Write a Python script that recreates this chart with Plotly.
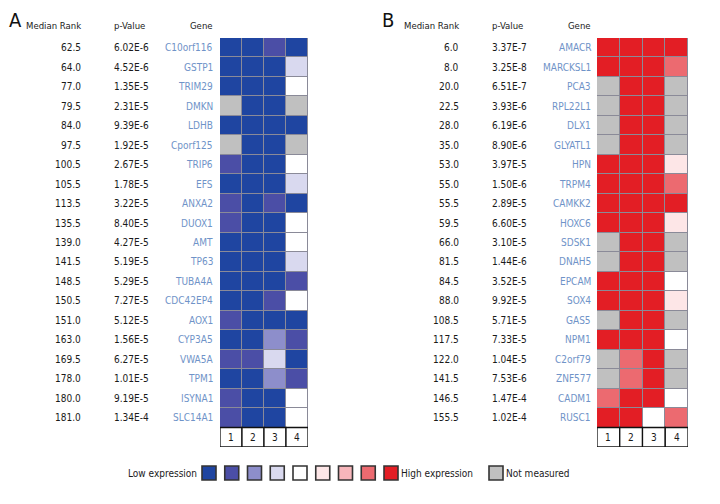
import plotly.graph_objects as go

W, H = 720, 504

# ---------------- data ----------------
genes_a = ["C10orf116", "GSTP1", "TRIM29", "DMKN", "LDHB", "Cporf125", "TRIP6", "EFS", "ANXA2", "DUOX1",
           "AMT", "TP63", "TUBA4A", "CDC42EP4", "AOX1", "CYP3A5", "VWA5A", "TPM1", "ISYNA1", "SLC14A1"]
rank_a = ["62.5", "64.0", "77.0", "79.5", "84.0", "97.5", "100.5", "105.5", "113.5", "135.5",
          "139.0", "141.5", "148.5", "150.5", "151.0", "163.0", "169.5", "178.0", "180.0", "181.0"]
pval_a = ["6.02E-6", "4.52E-6", "1.35E-5", "2.31E-5", "9.39E-6", "1.92E-5", "2.67E-5", "1.78E-5", "3.22E-5", "8.40E-5",
          "4.27E-5", "5.19E-5", "5.29E-5", "7.27E-5", "5.12E-5", "1.56E-5", "6.27E-5", "1.01E-5", "9.19E-5", "1.34E-4"]
# expression level 1 (lowest) .. 9 (highest), 0 = not measured
levels_a = [
    [1, 1, 2, 1], [1, 1, 1, 4], [1, 1, 1, 5], [0, 1, 1, 0], [1, 1, 1, 1],
    [0, 1, 1, 0], [2, 1, 1, 5], [1, 1, 1, 4], [2, 1, 2, 1], [2, 1, 1, 5],
    [1, 1, 1, 5], [1, 1, 1, 4], [1, 1, 1, 2], [1, 1, 2, 5], [2, 1, 1, 1],
    [1, 1, 3, 2], [2, 2, 4, 1], [1, 1, 3, 2], [2, 1, 1, 5], [2, 1, 1, 5],
]

genes_b = ["AMACR", "MARCKSL1", "PCA3", "RPL22L1", "DLX1", "GLYATL1", "HPN", "TRPM4", "CAMKK2", "HOXC6",
           "SDSK1", "DNAH5", "EPCAM", "SOX4", "GAS5", "NPM1", "C2orf79", "ZNF577", "CADM1", "RUSC1"]
rank_b = ["6.0", "8.0", "20.0", "22.5", "28.0", "35.0", "53.0", "55.0", "55.5", "59.5",
          "66.0", "81.5", "84.5", "88.0", "108.5", "117.5", "122.0", "141.5", "146.5", "155.5"]
pval_b = ["3.37E-7", "3.25E-8", "6.51E-7", "3.93E-6", "6.19E-6", "8.90E-6", "3.97E-5", "1.50E-6", "2.89E-5", "6.60E-5",
          "3.10E-5", "1.44E-6", "3.52E-5", "9.92E-5", "5.71E-5", "7.33E-5", "1.04E-5", "7.53E-6", "1.47E-4", "1.02E-4"]
levels_b = [
    [9, 9, 9, 9], [9, 9, 9, 8], [0, 9, 9, 0], [0, 9, 9, 0], [0, 9, 9, 0],
    [0, 9, 9, 0], [9, 9, 9, 6], [9, 9, 9, 8], [9, 9, 9, 9], [9, 9, 9, 6],
    [0, 9, 9, 0], [0, 9, 9, 0], [9, 9, 9, 5], [9, 9, 9, 6], [0, 9, 9, 0],
    [9, 9, 9, 5], [0, 8, 9, 0], [0, 8, 9, 0], [8, 9, 9, 5], [9, 9, 5, 8],
]

columns = ["1", "2", "3", "4"]
na_color = "#c0c0c0"
level_colors = ["#1f45a1", "#4b4ea6", "#8d8ecb", "#d9d9ef", "#ffffff",
                "#fde6e7", "#f7b6bb", "#ec6a70", "#e31e25"]

# ---------------- styling ----------------
FONT = "DejaVu Sans Condensed, Roboto Condensed, Roboto, sans-serif"
FS = 10
TXT = "#1a1a1a"
GENE_COL = "#6f93c8"

all_colors = [na_color] + level_colors
n = len(all_colors)
colorscale = []
for i, c in enumerate(all_colors):
    colorscale.append([i / n, c])
    colorscale.append([(i + 1) / n, c])

nrows = len(genes_a)
fig = go.Figure()

panels = [
    dict(letter="A", genes=genes_a, ranks=rank_a, pvals=pval_a, levels=levels_a,
         xa="x", ya="y", dom=(220, 308), letter_x=7, rank_x=83, p_x=112, gene_x=215),
    dict(letter="B", genes=genes_b, ranks=rank_b, pvals=pval_b, levels=levels_b,
         xa="x2", ya="y2", dom=(597, 688), letter_x=380, rank_x=461, p_x=490, gene_x=593),
]

top_px, bot_px = 38, 447
ydom = [1 - bot_px / H, 1 - top_px / H]
header_y = 1 - 25 / H

def txt(size=FS, color=TXT):
    return dict(family=FONT, size=size, color=color)

for p in panels:
    fig.add_trace(go.Heatmap(
        z=p["levels"], x=list(range(len(columns))), y=list(range(nrows)),
        colorscale=colorscale, zmin=-0.5, zmax=n - 0.5, showscale=False,
        xgap=1, ygap=1, hoverinfo="skip", xaxis=p["xa"], yaxis=p["ya"],
    ))
    xref, yref = p["xa"], p["ya"]
    fig.add_annotation(text=p["letter"], x=p["letter_x"] / W, y=1 - 20 / H, xref="paper", yref="paper",
                       xanchor="left", yanchor="middle", showarrow=False, font=txt(20, "#111"))
    fig.add_annotation(text="Median Rank", x=p["rank_x"] / W, y=header_y, xref="paper", yref="paper",
                       xanchor="right", yanchor="middle", showarrow=False, font=txt(9.5))
    fig.add_annotation(text="p-Value", x=p["p_x"] / W, y=header_y, xref="paper", yref="paper",
                       xanchor="left", yanchor="middle", showarrow=False, font=txt(9.5))
    fig.add_annotation(text="Gene", x=p["gene_x"] / W, y=header_y, xref="paper", yref="paper",
                       xanchor="right", yanchor="middle", showarrow=False, font=txt(9.5))
    for i in range(nrows):
        fig.add_annotation(text=p["ranks"][i], x=p["rank_x"] / W, y=i, xref="paper", yref=yref,
                           xanchor="right", yanchor="middle", showarrow=False, font=txt())
        fig.add_annotation(text=p["pvals"][i], x=p["p_x"] / W, y=i, xref="paper", yref=yref,
                           xanchor="left", yanchor="middle", showarrow=False, font=txt())
        fig.add_annotation(text=p["genes"][i], x=p["gene_x"] / W, y=i, xref="paper", yref=yref,
                           xanchor="right", yanchor="middle", showarrow=False, font=txt(color=GENE_COL))
    for c, lab in enumerate(columns):
        fig.add_shape(type="rect", xref=xref, yref=yref, x0=c - 0.5, x1=c + 0.5, y0=nrows - 0.5, y1=nrows + 0.5,
                      line=dict(color="#111", width=1.3), fillcolor="white", layer="above")
        fig.add_annotation(text=lab, x=c, y=nrows, xref=xref, yref=yref, showarrow=False, font=txt())

layout_axes = {}
for k, p in enumerate(panels):
    sfx = "" if k == 0 else str(k + 1)
    layout_axes["xaxis" + sfx] = dict(domain=[p["dom"][0] / W, p["dom"][1] / W], range=[-0.5, 3.5],
                                      showgrid=False, zeroline=False, showticklabels=False, ticks="",
                                      anchor="y" + sfx, fixedrange=True)
    layout_axes["yaxis" + sfx] = dict(domain=ydom, range=[nrows + 0.5, -0.5], showgrid=False, zeroline=False,
                                      showticklabels=False, ticks="", anchor="x" + sfx, fixedrange=True)

# ---------------- legend ----------------
leg_y = 1 - 473 / H
sq = 14
x_start = 209
step = 22.75
for i, c in enumerate(level_colors):
    cx = x_start + i * step
    fig.add_shape(type="rect", xref="paper", yref="paper",
                  x0=(cx - sq / 2) / W, x1=(cx + sq / 2) / W,
                  y0=leg_y - (sq / 2) / H, y1=leg_y + (sq / 2) / H,
                  line=dict(color="#333", width=1.6), fillcolor=c)
fig.add_annotation(text="Low expression", x=(x_start - sq / 2 - 3) / W, y=leg_y, xref="paper", yref="paper",
                   xanchor="right", yanchor="middle", showarrow=False, font=txt())
last_cx = x_start + (len(level_colors) - 1) * step
fig.add_annotation(text="High expression", x=(last_cx + sq / 2 + 1) / W, y=leg_y, xref="paper", yref="paper",
                   xanchor="left", yanchor="middle", showarrow=False, font=txt())
na_cx = 496
fig.add_shape(type="rect", xref="paper", yref="paper",
              x0=(na_cx - sq / 2) / W, x1=(na_cx + sq / 2) / W,
              y0=leg_y - (sq / 2) / H, y1=leg_y + (sq / 2) / H,
              line=dict(color="#333", width=1.6), fillcolor=na_color)
fig.add_annotation(text="Not measured", x=(na_cx + sq / 2 + 1) / W, y=leg_y, xref="paper", yref="paper",
                   xanchor="left", yanchor="middle", showarrow=False, font=txt())

fig.update_layout(
    width=W, height=H, margin=dict(l=0, r=0, t=0, b=0),
    paper_bgcolor="white", plot_bgcolor="#8a8a98", showlegend=False,
    **layout_axes,
)

fig.write_html("out.html", config={"displayModeBar": False},
               post_script="document.body.style.margin='0px';")
